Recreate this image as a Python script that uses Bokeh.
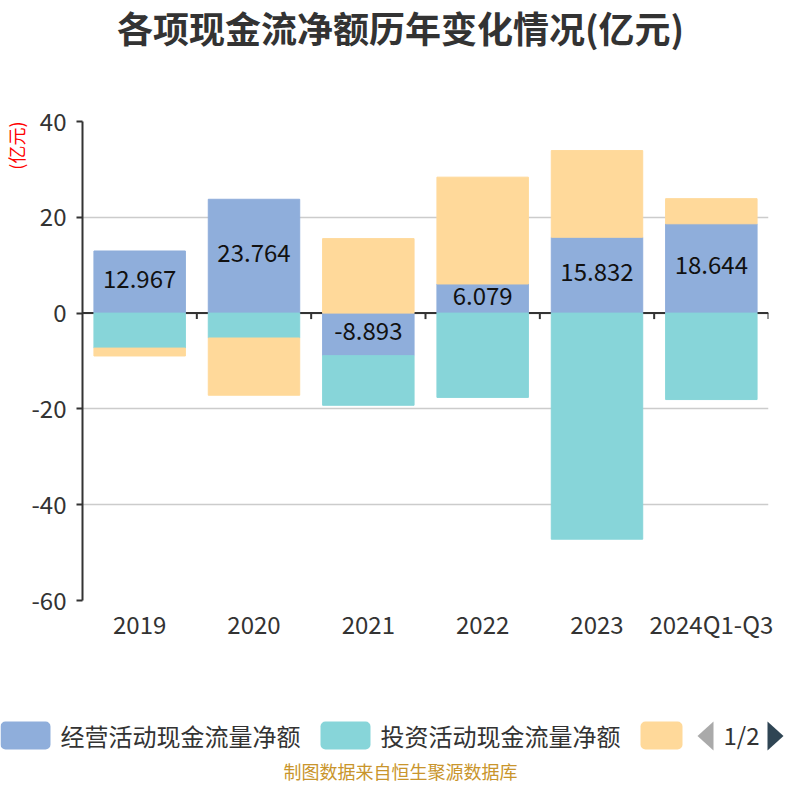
import numpy as np
from bokeh.plotting import figure
from bokeh.layouts import column
from bokeh.models import (ColumnDataSource, FactorRange, Range1d, FixedTicker, Span, Title)
from bokeh.core.properties import value
from bokeh.embed import file_html
from bokeh.resources import INLINE

categories = ["2019", "2020", "2021", "2022", "2023", "2024Q1-Q3"]
operating = [12.967, 23.764, -8.893, 6.079, 15.832, 18.644]
investing = [-7.3, -5.2, -10.35, -17.6, -47.2, -18.05]
financing = [-1.65, -11.95, 15.55, 22.3, 18.1, 5.25]
series_names = ["经营活动现金流量净额", "投资活动现金流量净额", "筹资活动现金流量净额"]
series_colors = ["#8FAEDB", "#87D5D9", "#FFD99A"]
y_ticks = [-60, -40, -20, 0, 20, 40]

FONT = "Noto Sans CJK SC"
W = 784

# ---------- title strip ----------
top = figure(width=W, height=64, x_range=Range1d(0, W), y_range=Range1d(64, 0),
             output_backend="svg", toolbar_location=None, x_axis_type=None, y_axis_type=None,
             min_border=0, min_border_left=0, min_border_right=0, min_border_top=0, min_border_bottom=0,
             frame_align=False)
top.outline_line_color = None
top.text(x=[400], y=[26], text=["各项现金流净额历年变化情况(亿元)"], text_align="center",
         text_baseline="middle", text_font=value(FONT), text_font_size="36px",
         text_font_style="bold", text_color="#333333")

# ---------- main chart ----------
p = figure(width=W, height=616, x_range=FactorRange(*categories), y_range=Range1d(-60, 40),
           output_backend="svg", toolbar_location=None, frame_align=False,
           min_border_left=79, min_border_right=16, min_border_top=57, min_border_bottom=80)
p.outline_line_color = None
p.xgrid.visible = False
p.ygrid.grid_line_color = "#cccccc"
p.ygrid.grid_line_width = 1.5
p.yaxis.ticker = FixedTicker(ticks=y_ticks)
p.yaxis.major_label_overrides = {t: str(t) for t in y_ticks}
p.yaxis.axis_line_color = "#333333"
p.yaxis.axis_line_width = 2
p.yaxis.major_tick_line_color = "#333333"
p.yaxis.major_tick_line_width = 2
p.yaxis.major_tick_out = 6
p.yaxis.major_tick_in = 0
p.yaxis.minor_tick_line_color = None
p.yaxis.major_label_text_font = FONT
p.yaxis.major_label_text_font_size = "24px"
p.yaxis.major_label_text_color = "#333333"
p.yaxis.major_label_standoff = 10
p.xaxis.axis_line_color = None
p.xaxis.major_tick_line_color = None
p.xaxis.major_tick_out = 0
p.xaxis.major_tick_in = 0
p.xaxis.minor_tick_line_color = None
p.xaxis.major_label_text_font = FONT
p.xaxis.major_label_text_font_size = "24px"
p.xaxis.major_label_text_color = "#333333"
p.xaxis.major_label_standoff = 5

p.add_layout(Title(text="(亿元)", align="right", text_color="red", text_font=FONT,
                   text_font_size="18px", text_font_style="normal", standoff=0), "left")

zero = Span(location=0, dimension="width", line_color="#333333", line_width=2, level="underlay")
p.add_layout(zero)

# stacked bars (positives and negatives stacked separately)
n = len(categories)
pos = np.zeros(n)
neg = np.zeros(n)
for vals, color in zip([operating, investing, financing], series_colors):
    v = np.array(vals, dtype=float)
    bottom = np.where(v >= 0, pos, neg)
    topv = bottom + v
    pos = np.where(v >= 0, topv, pos)
    neg = np.where(v < 0, topv, neg)
    src = ColumnDataSource(dict(x=categories, bottom=bottom, top=topv))
    p.vbar(x="x", bottom="bottom", top="top", width=0.8, source=src,
           fill_color=color, line_color=color, line_width=1)

# category boundary ticks on the zero axis
boundaries = np.arange(1, n + 1)
p.segment(x0=boundaries, y0=0, x1=boundaries, y1=-1.25, line_color="#333333", line_width=2)

# value labels for operating cash flow
op = np.array(operating)
lab_src = ColumnDataSource(dict(x=categories, y=op / 2, t=[f"{v:.3f}" for v in op]))
p.text(x="x", y="y", text="t", source=lab_src, text_align="center", text_baseline="middle",
       y_offset=-3, text_font=value(FONT), text_font_size="24px", text_color="#111111")

# ---------- legend + footer strip ----------
leg = figure(width=W, height=104, x_range=Range1d(0, W), y_range=Range1d(784, 680),
             output_backend="svg", toolbar_location=None, x_axis_type=None, y_axis_type=None,
             min_border=0, min_border_left=0, min_border_right=0, min_border_top=0, min_border_bottom=0,
             frame_align=False)
leg.outline_line_color = None
leg.quad(left=[0, 320, 640], right=[50, 370, 682], top=[721, 721, 721], bottom=[749, 749, 749],
         fill_color=series_colors, line_color=None, border_radius=5)
leg.text(x=[60, 380], y=[735, 735], text=series_names[:2], text_align="left", text_baseline="middle",
         text_font=value(FONT), text_font_size="24px", text_color="#333333")
leg.patches(xs=[[713, 713, 697], [767, 767, 783]], ys=[[721, 750, 735.5], [721, 750, 735.5]],
            fill_color=["#aaaaaa", "#2f4554"], line_color=None)
leg.text(x=[741], y=[734], text=["1/2"], text_align="center", text_baseline="middle",
         text_font=value(FONT), text_font_size="24px", text_color="#333333")
leg.text(x=[400], y=[770], text=["制图数据来自恒生聚源数据库"], text_align="center", text_baseline="middle",
         text_font=value(FONT), text_font_size="18px", text_color="#C9952C")

layout = column(top, p, leg, spacing=0)
open("out.html", "w").write(file_html(layout, INLINE))
